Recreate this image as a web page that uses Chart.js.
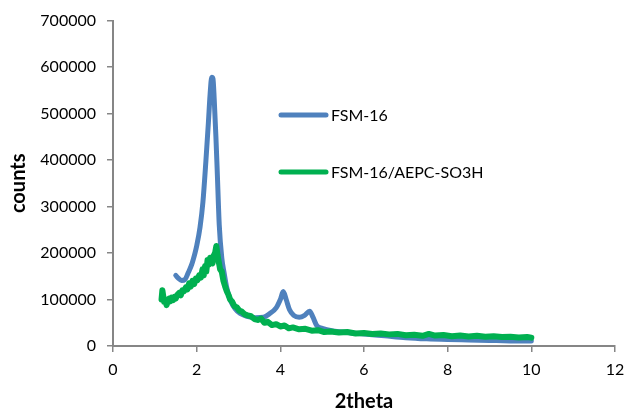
<!DOCTYPE html>
<html>
<head>
<meta charset="utf-8">
<script src="https://cdn.jsdelivr.net/npm/chart.js@4/dist/chart.umd.min.js"></script>
<style>
  body { margin: 0; background: #fff; }
  #wrap { width: 625px; height: 410px; }
</style>
</head>
<body>
<div id="wrap"><canvas id="xrd" width="625" height="410"></canvas></div>
<script>
// FSM-16 (blue)
const fsmX = [1.50, 1.56, 1.64, 1.72, 1.80, 1.88, 1.96, 2.00, 2.08, 2.15, 2.22, 2.28, 2.32, 2.36, 2.39, 2.42, 2.46, 2.49, 2.54, 2.60, 2.66, 2.72, 2.80, 2.92, 3.04, 3.20, 3.40, 3.60, 3.75, 3.90, 4.00, 4.07, 4.14, 4.22, 4.32, 4.45, 4.58, 4.70, 4.78, 4.87, 5.00, 5.30, 5.60, 6.00, 6.50, 7.00, 7.50, 8.00, 8.50, 9.00, 9.50, 10.00];
const fsmY = [152000, 146000, 141000, 143000, 158000, 175000, 200000, 215000, 255000, 310000, 397000, 480000, 540000, 578000, 575000, 530000, 450000, 380000, 260000, 190000, 155000, 125000, 100000, 80000, 70000, 64000, 61000, 62000, 70000, 82000, 100000, 117000, 100000, 78000, 66000, 62000, 66000, 75000, 62000, 44000, 38000, 32000, 29000, 26000, 22000, 18000, 15500, 14000, 13000, 12000, 11000, 10500];

// FSM-16/AEPC-SO3H (green)
const aepcX = [1.16, 1.18, 1.20, 1.22, 1.25, 1.28, 1.31, 1.34, 1.37, 1.40, 1.44, 1.47, 1.50, 1.54, 1.58, 1.62, 1.66, 1.70, 1.74, 1.78, 1.82, 1.86, 1.90, 1.94, 1.98, 2.02, 2.06, 2.10, 2.14, 2.17, 2.20, 2.23, 2.26, 2.29, 2.32, 2.35, 2.38, 2.41, 2.44, 2.47, 2.50, 2.53, 2.56, 2.60, 2.64, 2.68, 2.72, 2.76, 2.80, 2.85, 2.90, 2.96, 3.02, 3.08, 3.15, 3.22, 3.30, 3.38, 3.46, 3.54, 3.62, 3.70, 3.80, 3.90, 4.00, 4.10, 4.20, 4.30, 4.45, 4.60, 4.75, 4.90, 5.05, 5.20, 5.40, 5.60, 5.80, 6.00, 6.20, 6.40, 6.60, 6.80, 7.00, 7.20, 7.40, 7.55, 7.70, 7.90, 8.10, 8.30, 8.50, 8.70, 8.90, 9.10, 9.30, 9.50, 9.70, 9.90, 10.00];
const aepcY = [100000, 120000, 108000, 95000, 100000, 88000, 97000, 102000, 96000, 104000, 99000, 106000, 102000, 110000, 114000, 109000, 120000, 118000, 126000, 122000, 135000, 128000, 140000, 133000, 145000, 142000, 152000, 147000, 165000, 152000, 172000, 160000, 185000, 175000, 190000, 183000, 178000, 195000, 200000, 215000, 195000, 180000, 165000, 160000, 140000, 128000, 118000, 110000, 100000, 95000, 86000, 83000, 76000, 74000, 68000, 66000, 64000, 58000, 56000, 59000, 50000, 52000, 45000, 47000, 42000, 44000, 38000, 40000, 36000, 37000, 33000, 34000, 30000, 31000, 29000, 30000, 27000, 28000, 26000, 27000, 25000, 26000, 23000, 24000, 22000, 26000, 22500, 23500, 21000, 22500, 20500, 22000, 20000, 21000, 19500, 20000, 18500, 19500, 18000];

const seriesNames = ['FSM-16', 'FSM-16/AEPC-SO3H'];
const xTitle = '2theta';
const yTitle = 'counts';

const toPts = (xs, ys) => xs.map((x, i) => ({ x: x, y: ys[i] }));

const axisGray = '#868686';
const fontFam = 'Lato, "Open Sans", sans-serif';

// legend sits inside the plot, like the Excel one
const insideLegend = {
  id: 'insideLegend',
  afterDraw(chart) {
    const ctx = chart.ctx;
    const items = [
      { ds: chart.data.datasets[0], y: 115 },
      { ds: chart.data.datasets[1], y: 172 }
    ];
    ctx.save();
    items.forEach(it => {
      ctx.strokeStyle = it.ds.borderColor;
      ctx.lineWidth = 5;
      ctx.lineCap = 'round';
      ctx.beginPath();
      ctx.moveTo(281, it.y);
      ctx.lineTo(326, it.y);
      ctx.stroke();
      ctx.fillStyle = '#000';
      ctx.font = '16px ' + fontFam;
      ctx.textBaseline = 'middle';
      ctx.fillText(it.ds.label, 331, it.y + 1);
    });
    ctx.restore();
  }
};

new Chart(document.getElementById('xrd').getContext('2d'), {
  type: 'scatter',
  data: {
    datasets: [
      {
        label: seriesNames[0],
        data: toPts(fsmX, fsmY),
        borderColor: '#4F81BD',
        backgroundColor: '#4F81BD',
        borderWidth: 5,
        showLine: true,
        pointRadius: 0,
        cubicInterpolationMode: 'monotone',
        borderCapStyle: 'round',
        borderJoinStyle: 'round',
        order: 2
      },
      {
        label: seriesNames[1],
        data: toPts(aepcX, aepcY),
        borderColor: '#00B050',
        backgroundColor: '#00B050',
        borderWidth: 6,
        showLine: true,
        pointRadius: 0,
        borderCapStyle: 'round',
        borderJoinStyle: 'round',
        order: 1
      }
    ]
  },
  options: {
    responsive: false,
    animation: false,
    devicePixelRatio: 1,
    layout: { padding: { top: 18, right: 10, left: 0, bottom: 0 } },
    plugins: {
      legend: { display: false },
      tooltip: { enabled: false }
    },
    scales: {
      x: {
        type: 'linear',
        min: 0,
        max: 12,
        afterFit(scale) {
          scale.height = 64;
          scale.paddingLeft = 0;
          scale.paddingRight = 0;
        },
        ticks: { stepSize: 2, color: '#000', padding: 8, font: { family: fontFam, size: 16 } },
        grid: { drawOnChartArea: false, color: axisGray, lineWidth: 1.5, tickLength: 6 },
        border: { color: axisGray, width: 2 },
        title: {
          display: true,
          text: xTitle,
          color: '#000',
          font: { family: fontFam, size: 20, weight: 'bold', lineHeight: 0.8 },
          padding: { top: 0, bottom: 0 }
        }
      },
      y: {
        min: 0,
        max: 700000,
        afterFit(scale) { scale.width = 113; },
        ticks: {
          stepSize: 100000,
          color: '#000',
          padding: 11,
          font: { family: fontFam, size: 16 },
          callback: v => String(v)
        },
        grid: { drawOnChartArea: false, color: axisGray, lineWidth: 1.5, tickLength: 6 },
        border: { color: axisGray, width: 2 },
        title: {
          display: true,
          text: yTitle,
          color: '#000',
          font: { family: fontFam, size: 20, weight: 'bold' },
          padding: { top: 7, bottom: 0 }
        }
      }
    }
  },
  plugins: [insideLegend]
});
</script>
</body>
</html>
